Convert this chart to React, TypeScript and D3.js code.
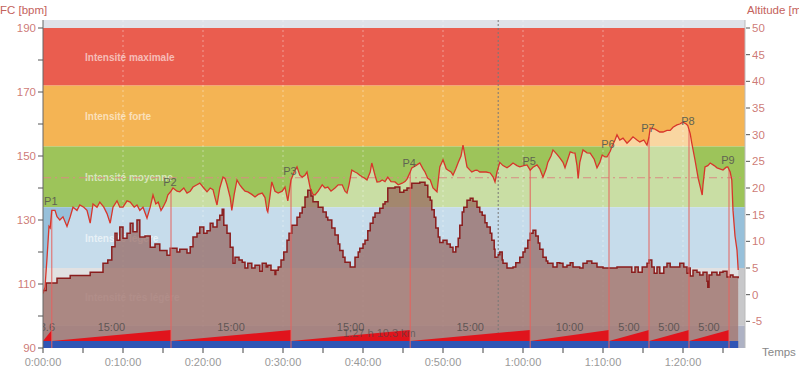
import * as d3 from "d3";

const W = 799;
const H = 370;
const left = 43;
const right = 745;
const top = 20;
const bottom = 348;

// heart rate samples [minutes, bpm]
const hrSamples: [number, number][] = [
  [0, 107], [0.25, 109], [0.5, 118], [0.75, 128], [0.9, 127.5], [1.1, 133], [1.5, 133], [1.75, 131],
  [2.1, 130], [2.5, 131], [3.0, 128], [3.4, 131], [3.75, 134], [4.25, 133], [4.6, 134.7], [5.1, 134],
  [5.5, 133], [5.9, 129], [6.25, 135], [6.75, 134], [7.1, 135.6], [7.6, 134], [8.0, 132], [8.4, 129],
  [8.75, 134], [9.25, 136], [9.6, 134], [10.0, 134], [10.5, 136], [10.9, 135.6], [11.4, 134], [11.75, 134.7],
  [12.1, 133], [12.5, 134], [13.0, 130.6], [13.4, 134], [13.75, 137.8], [14.1, 135], [14.4, 135.6], [14.75, 133],
  [15.0, 134], [15.4, 136], [15.6, 137.8], [16.0, 139], [16.25, 140], [16.75, 139], [17.1, 138.8], [17.6, 140],
  [18.0, 138.4], [18.4, 139], [18.75, 140.3], [19.25, 141], [19.6, 141.5], [20.1, 140], [20.5, 138.8], [20.9, 140],
  [21.25, 139.5], [21.5, 137], [21.75, 134.7], [22.1, 140], [22.5, 143.4], [22.75, 143], [23.0, 141], [23.4, 137],
  [23.6, 133], [23.9, 138], [24.25, 142.5], [24.6, 141], [24.9, 140], [25.25, 139], [25.6, 138.8], [26.1, 138],
  [26.5, 137.2], [26.9, 138], [27.4, 138.4], [27.75, 137], [28.0, 133], [28.1, 132.5], [28.4, 138], [28.6, 141.9],
  [29.0, 139], [29.4, 138.4], [29.9, 139], [30.25, 140.3], [30.6, 136], [31.0, 142.5], [31.4, 145], [31.75, 146.6],
  [32.1, 144], [32.4, 143.4], [32.75, 144], [33.0, 145], [33.4, 140], [33.75, 138], [34.0, 137.8], [34.4, 139],
  [34.9, 141], [35.25, 140], [35.6, 140.3], [36.0, 139], [36.5, 140], [36.9, 141], [37.4, 141], [37.75, 139],
  [38.0, 138.4], [38.25, 141], [38.6, 145.6], [39.0, 145], [39.25, 144.7], [39.6, 144], [39.9, 143.5], [40.25, 143],
  [40.5, 142.5], [40.9, 145], [41.1, 147.8], [41.5, 144], [41.75, 141.9], [42.1, 142], [42.4, 142.5], [42.75, 142],
  [43.1, 143.4], [43.5, 142], [44.0, 141.9], [44.4, 141], [44.9, 141.5], [45.25, 142], [45.5, 142.8], [45.9, 145],
  [46.1, 146.3], [46.6, 147], [47.1, 147.8], [47.5, 146], [47.75, 145], [48.1, 143], [48.4, 142.5], [48.75, 140],
  [49.25, 138.8], [49.6, 146.6], [50.0, 148.8], [50.4, 146], [50.6, 145.6], [51.0, 145], [51.25, 144], [51.6, 146],
  [51.9, 148], [52.25, 150], [52.5, 153.4], [52.75, 150], [53.0, 146.6], [53.4, 145.5], [53.6, 145], [54.0, 145.5],
  [54.25, 145.6], [54.6, 145], [55.0, 145], [55.4, 145], [55.9, 144.7], [56.25, 143.5], [56.5, 141.9], [56.75, 145],
  [57.1, 148], [57.5, 147], [58.0, 146.3], [58.4, 147], [58.75, 147.8], [59.25, 147], [59.6, 146.6], [60.1, 147],
  [60.5, 147.2], [60.9, 145.6], [61.25, 146.5], [61.75, 147.2], [62.1, 146], [62.5, 143.4], [62.9, 146], [63.1, 148],
  [63.5, 150], [63.75, 151.9], [64.25, 150.5], [64.6, 149.4], [65.0, 148], [65.25, 146.3], [65.6, 149], [65.9, 151.3],
  [66.25, 151], [66.5, 150.9], [66.75, 147], [66.9, 143], [67.1, 148], [67.5, 151.9], [68.0, 151], [68.4, 150.9],
  [68.9, 149], [69.25, 146.3], [69.6, 148], [69.9, 150.3], [70.25, 149.7], [70.5, 149.7], [70.9, 151.5], [71.1, 152.8],
  [71.5, 155], [71.75, 156.6], [72.1, 155], [72.5, 155.6], [73.0, 154], [73.4, 155], [73.75, 156], [74.25, 155],
  [74.6, 154.4], [75.1, 155], [75.5, 153.4], [75.75, 156], [75.9, 158.75], [76.4, 158.5], [76.75, 158], [77.1, 157.5],
  [77.5, 157.5], [78.0, 158], [78.4, 158], [78.75, 159], [79.25, 159.7], [79.6, 160], [80.0, 160.6], [80.4, 160],
  [80.6, 159.5], [80.9, 157], [81.1, 154], [81.5, 148.75], [81.9, 143], [82.1, 141], [82.4, 137.8], [82.5, 141],
  [82.75, 146.6], [83.1, 147], [83.4, 147.8], [83.9, 147], [84.25, 146.3], [84.6, 146], [85.0, 145.6], [85.4, 146.5],
  [85.6, 146.6], [85.9, 145], [86.1, 142.5], [86.25, 133], [86.5, 125], [86.75, 120.6], [86.9, 114.4],
];

// altitude samples [minutes, metres], drawn as steps
const altSamples: [number, number][] = [
  [0, 0.8], [0.4, 2.2], [1.75, 3.1], [3.4, 3.6], [5.9, 4.2], [7.5, 5.9], [8.1, 6.5], [8.6, 9], [9.0, 11.5],
  [9.25, 10.2], [9.6, 12.7], [10.0, 10.6], [10.5, 11.5], [10.9, 13.4], [11.25, 11.8], [11.75, 14], [12.1, 10.8],
  [12.75, 11], [13.4, 8.9], [14.0, 9.5], [14.6, 8.3], [15.5, 7.4], [15.9, 8.7], [16.75, 8.0], [17.1, 8.5],
  [18.0, 7.8], [18.4, 9.0], [18.75, 10.8], [19.25, 11.5], [19.6, 12.7], [20.1, 11.5], [20.5, 12.0], [20.9, 13.4],
  [21.25, 12.7], [21.75, 14], [22.1, 14.9], [22.4, 16], [22.6, 13], [23.0, 11.5], [23.4, 8.9], [23.75, 5.9],
  [24.0, 7], [24.5, 6.5], [24.9, 6.1], [25.25, 5], [25.6, 5.9], [26.1, 5], [26.5, 5.5], [27.1, 4.4], [27.4, 5.9],
  [27.9, 5.2], [28.1, 5.5], [28.5, 4.6], [29.0, 3.8], [29.1, 4.6], [29.4, 5.2], [29.75, 6.5], [30.1, 8],
  [30.5, 10.2], [30.75, 11.5], [31.1, 13], [31.75, 14.5], [32.1, 15.3], [32.4, 16.4], [32.75, 18.3], [33.1, 19.6],
  [33.5, 18.5], [33.75, 17.4], [34.4, 16.4], [35.0, 15.5], [35.4, 14.5], [35.6, 14], [36.1, 12.5], [36.5, 11.2],
  [36.9, 9.5], [37.1, 8.3], [37.5, 7], [37.75, 6.1], [38.4, 5.2], [39.0, 7], [39.4, 8], [39.6, 8.7], [40.0, 9.5],
  [40.25, 10.2], [40.6, 12], [40.9, 13.4], [41.25, 14.5], [41.5, 15.3], [42.1, 16.2], [42.5, 17], [42.75, 17.4],
  [43.1, 20], [44.0, 20.2], [44.6, 19.2], [45.1, 19.6], [45.5, 20], [46.1, 20.9], [47.1, 21.1], [47.75, 20.5],
  [48.1, 18.3], [48.4, 17.7], [48.6, 15.9], [48.9, 14.5], [49.1, 12.5], [49.4, 10.8], [49.6, 9.8], [50.0, 10.2],
  [50.5, 9.5], [50.9, 8.9], [51.25, 8], [51.6, 9], [51.9, 10.6], [52.1, 13], [52.4, 15.5], [52.6, 16.4],
  [53.0, 17.7], [53.4, 18.1], [53.75, 17.5], [54.25, 16.4], [54.6, 15.5], [54.9, 14.9], [55.25, 13.5], [55.5, 12.7],
  [55.9, 11.5], [56.1, 10.2], [56.4, 8.5], [56.5, 7], [56.9, 7.5], [57.1, 8], [57.4, 6.5], [57.5, 5.9], [58.0, 5],
  [58.75, 5.2], [59.1, 6], [59.6, 7], [60.0, 8], [60.25, 8.7], [60.6, 10.2], [60.9, 11.5], [61.25, 12.1],
  [61.6, 11], [61.9, 9.7], [62.1, 8.5], [62.5, 7], [62.9, 6.3], [63.1, 5.9], [63.75, 5.2], [64.25, 6], [64.6, 5.9],
  [65.0, 5.2], [65.5, 5.5], [65.9, 6], [66.25, 5.2], [67.1, 5], [67.5, 5.9], [68.0, 6.3], [68.6, 5.9], [69.25, 5.2],
  [70.0, 5], [71.75, 5.2], [73.6, 4.2], [74.0, 5.2], [74.4, 4.2], [74.9, 5.2], [75.5, 5.9], [75.75, 6.5],
  [76.1, 5.2], [76.4, 4], [76.75, 5.2], [77.1, 4], [77.6, 5.2], [78.0, 5.9], [78.4, 5.2], [79.1, 5.2], [79.6, 5.9],
  [80.1, 5.2], [80.5, 4], [80.75, 5], [80.9, 3.5], [81.25, 4.6], [81.75, 4.2], [82.1, 3.7], [82.5, 4.2], [83.0, 2.5],
  [83.1, 1.4], [83.25, 3.7], [83.6, 4.2], [84.25, 3.7], [84.6, 4.2], [85.0, 4.4], [85.5, 3.3], [85.9, 3.7],
  [86.25, 3.3], [86.9, 3.1],
];

const lapEnds = [1.1, 16.0, 31.0, 45.9, 60.9, 70.75, 75.75, 80.75, 85.75];
const lapLabels = ["3.6", "15:00", "15:00", "15:00", "15:00", "10:00", "5:00", "5:00", "5:00"];
const lapNames = ["P1", "P2", "P3", "P4", "P5", "P6", "P7", "P8", "P9"];

const zoneNames = ["", "Intensité maximale", "Intensité forte", "Intensité moyenne", "Intensité légère", "Intensité très légère", ""];
const zoneLow = [190, 172, 153, 134, 115, 97, 90];
const zoneHigh = [192.5, 190, 172, 153, 134, 115, 97];
const zoneColors = ["#dfe2e9", "#ea5d4f", "#f4b454", "#9dc45a", "#97c0da", "#c8c8ca", "#aeb2c4"];

const avgHr = 143.2;
const markerTime = 56.9;
const endTime = 86.9;
const summaryText = "1:27 h   10.3 km";

const timeTicks = d3.range(0, 81, 10);
const timeMinorTicks = d3.range(0, 86, 5);
const bpmTicks = d3.range(90, 191, 10);
const altTicks = d3.range(-5, 51, 5);

const font = "'Liberation Sans', Arial, sans-serif";
const axisRed = "#c4625c";

function fmtTime(m: number) {
  const h = Math.floor(m / 60);
  const mm = String(m % 60).padStart(2, "0");
  return `${h}:${mm}:00`;
}

export default function App() {
  const x = d3.scaleLinear([0, 87.75], [left, right]);
  const yL = d3.scaleLinear([90, 192.5], [bottom, top]);
  const yR = d3.scaleLinear([-10, 51.5], [bottom, top]);

  const hrLine = d3.line<[number, number]>((d) => x(d[0]), (d) => yL(d[1]));
  const hrArea = d3.area<[number, number]>((d) => x(d[0]), bottom, (d) => yL(d[1]));
  const altLine = d3.line<[number, number]>((d) => x(d[0]), (d) => yR(d[1])).curve(d3.curveStepAfter);
  const altArea = d3.area<[number, number]>((d) => x(d[0]), bottom, (d) => yR(d[1])).curve(d3.curveStepAfter);

  const bis = d3.bisector((d: [number, number]) => d[0]).left;
  const hrAt = (t: number) => {
    const i = Math.min(Math.max(bis(hrSamples, t), 1), hrSamples.length - 1);
    const a = hrSamples[i - 1], b = hrSamples[i];
    return a[1] + ((b[1] - a[1]) * (t - a[0])) / (b[0] - a[0]);
  };

  const lapStarts = [0, ...lapEnds.slice(0, -1)];
  const rampBase = 341;
  const rampTop = 330;

  return (
    <svg width={W} height={H} style={{ position: "absolute", left: 0, top: 0, background: "#fff" }} fontFamily={font}>
      <defs>
        <clipPath id="plot">
          <rect x={left} y={top} width={right - left} height={bottom - top} />
        </clipPath>
      </defs>

      <g clipPath="url(#plot)">
        {zoneLow.map((lo, i) => (
          <rect key={i} x={left} width={right - left} y={yL(zoneHigh[i])} height={yL(lo) - yL(zoneHigh[i])} fill={zoneColors[i]} />
        ))}
        {zoneNames.map((n, i) =>
          n ? (
            <text key={i} x={85} y={(yL(zoneLow[i]) + yL(zoneHigh[i])) / 2 + 4} fontSize={10} fontWeight="bold" fill="#fff" fillOpacity={0.6}>
              {n}
            </text>
          ) : null
        )}

        {timeTicks.slice(1).map((t) => (
          <line key={t} x1={x(t)} x2={x(t)} y1={top} y2={bottom} stroke="#fff" strokeOpacity={0.4} strokeDasharray="2,3" />
        ))}

        <path d={hrArea(hrSamples) || undefined} fill="#fff" fillOpacity={0.45} />
        <path d={altArea(altSamples) || undefined} fill="#8f5a52" fillOpacity={0.66} />
        <path d={altLine(altSamples) || undefined} fill="none" stroke="#8a1d1d" strokeWidth={1.5} />

        <line x1={left} x2={right} y1={yL(avgHr)} y2={yL(avgHr)} stroke="#d98c82" strokeWidth={1.2} strokeDasharray="8,4,2,4" />
        <line x1={x(markerTime)} x2={x(markerTime)} y1={top} y2={bottom} stroke="#777" strokeDasharray="2,2" />

        <rect x={left} width={x(endTime) - left} y={rampBase} height={bottom - rampBase} fill="#2f55b5" />
        {lapEnds.map((e, i) => (
          <polygon
            key={i}
            points={`${x(lapStarts[i])},${rampBase} ${x(e)},${rampTop} ${x(e)},${rampBase}`}
            fill="#e0141c"
          />
        ))}
        {lapEnds.map((e, i) => (
          <text key={i} x={(x(lapStarts[i]) + x(e)) / 2} y={331} textAnchor="middle" fontSize={11} fill="#444" fillOpacity={0.75}>
            {lapLabels[i]}
          </text>
        ))}
        <text x={343} y={337} fontSize={11} fill="#444" fillOpacity={0.6}>{summaryText}</text>

        {lapEnds.map((e, i) => (
          <line key={i} x1={x(e)} x2={x(e)} y1={bottom} y2={yL(hrAt(e))} stroke="#e5625e" strokeWidth={1} />
        ))}

        <path d={hrLine(hrSamples) || undefined} fill="none" stroke="#d8362b" strokeWidth={1.3} />

        {lapEnds.map((e, i) => (
          <text key={i} x={x(e) - 1} y={yL(hrAt(e)) - 5} textAnchor="middle" fontSize={11} fill="#5f6352">
            {lapNames[i]}
          </text>
        ))}
      </g>

      {/* left axis */}
      <line x1={left} x2={left} y1={top} y2={bottom} stroke="#666" />
      {bpmTicks.map((b) => (
        <g key={b}>
          <line x1={left - 5} x2={left} y1={yL(b)} y2={yL(b)} stroke="#555" />
          {b % 20 === 10 ? (
            <text x={36} y={yL(b) + 4} textAnchor="end" fontSize={11.5} fill={axisRed} fillOpacity={0.85}>{b}</text>
          ) : null}
        </g>
      ))}
      <text x={0} y={14} fontSize={11.5} fill={axisRed}>FC [bpm]</text>

      {/* right axis */}
      <line x1={right} x2={right} y1={top} y2={bottom} stroke="#bbb" />
      {altTicks.map((a) => (
        <g key={a}>
          <line x1={right + 1} x2={right + 5} y1={yR(a)} y2={yR(a)} stroke="#555" />
          <text x={752} y={yR(a) + 4} fontSize={11.5} fill={axisRed} fillOpacity={0.85}>{a}</text>
        </g>
      ))}
      <text x={747} y={14} fontSize={11.5} fill={axisRed}>Altitude  [m]</text>

      {/* bottom axis */}
      {timeMinorTicks.map((t) => (
        <line key={t} x1={x(t)} x2={x(t)} y1={bottom} y2={bottom + 5} stroke="#444" />
      ))}
      {timeTicks.map((t) => (
        <text key={t} x={x(t)} y={366} textAnchor="middle" fontSize={11} fill="#999">{fmtTime(t)}</text>
      ))}
      <text x={762} y={356} fontSize={11.5} fill="#888">Temps</text>
    </svg>
  );
}
